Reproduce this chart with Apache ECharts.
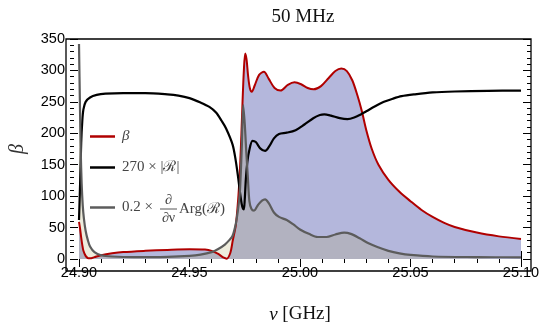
<!DOCTYPE html>
<html>
<head>
<meta charset="utf-8">
<script src="https://cdn.jsdelivr.net/npm/echarts@6/dist/echarts.min.js"></script>
<style>
  html, body { margin: 0; padding: 0; background: #fff; }
  #chart { width: 545px; height: 329px; }
</style>
</head>
<body>
<div id="chart"></div>
<script>
// beta (red, filled)
const betaNu = [24.9000, 24.9005, 24.9010, 24.9015, 24.9020, 24.9030, 24.9040, 24.9050, 24.9070, 24.9100,
  24.9150, 24.9200, 24.9300, 24.9400, 24.9500, 24.9570, 24.9600, 24.9630, 24.9655, 24.9668,
  24.9685, 24.9695, 24.9710, 24.9725, 24.9735, 24.9740, 24.9746, 24.9752, 24.9758, 24.9765,
  24.9773, 24.9782, 24.9795, 24.9815, 24.9837, 24.9858, 24.9885, 24.9912, 24.9945, 24.9975,
  25.0005, 25.0035, 25.0062, 25.0095, 25.0130, 25.0160, 25.0187, 25.0212, 25.0237, 25.0260,
  25.0280, 25.0300, 25.0325, 25.0355, 25.0400, 25.0450, 25.0500, 25.0550, 25.0600, 25.0650,
  25.0700, 25.0800, 25.0900, 25.1000];
const betaVal = [59, 48, 34, 22, 13, 5, 1.5, 1, 3, 6,
  9, 11, 13, 14.5, 15.5, 15, 13, 8, 2, 0.5,
  10, 28, 55, 120, 200, 250, 300, 327, 318, 292,
  272, 266, 276, 293, 298, 287, 272, 268, 277, 281,
  278, 272, 270, 275, 288, 299, 303, 299, 284, 260,
  235, 205, 175, 150, 126, 107, 92, 78, 67, 58,
  51, 42, 36, 32];

// 270 x |R| (black)
const magNu = [24.9000, 24.9005, 24.9010, 24.9015, 24.9020, 24.9030, 24.9050, 24.9080, 24.9120, 24.9200,
  24.9300, 24.9400, 24.9450, 24.9500, 24.9550, 24.9590, 24.9620, 24.9645, 24.9665, 24.9695,
  24.9709, 24.9720, 24.9728, 24.9736, 24.9742, 24.9746, 24.9750, 24.9755, 24.9762, 24.9770,
  24.9785, 24.9800, 24.9820, 24.9842, 24.9862, 24.9882, 24.9905, 24.9940, 24.9980, 25.0020,
  25.0060, 25.0090, 25.0110, 25.0140, 25.0180, 25.0215, 25.0245, 25.0275, 25.0300, 25.0340,
  25.0380, 25.0420, 25.0460, 25.0520, 25.0600, 25.0700, 25.0850, 25.1000];
const magVal = [62, 120, 185, 220, 238, 250, 257, 261, 263, 264,
  264, 262, 260, 256, 249, 242, 233, 220, 208, 182,
  157, 130, 107, 88, 80, 79, 95, 127, 155, 172,
  188, 186, 176, 172, 180, 192, 199, 201, 205, 214,
  224, 229, 230, 228, 224, 222.5, 225, 230, 235, 243,
  250, 255, 259, 262, 265, 266.5, 267.5, 268];

// 0.2 x d/dnu Arg(R) (grey, filled)
const argNu = [24.9000, 24.9004, 24.9008, 24.9012, 24.9017, 24.9022, 24.9030, 24.9040, 24.9050, 24.9070,
  24.9100, 24.9150, 24.9250, 24.9400, 24.9500, 24.9550, 24.9600, 24.9630, 24.9660, 24.9680,
  24.9695, 24.9710, 24.9720, 24.9728, 24.9737, 24.9743, 24.9750, 24.9757, 24.9764, 24.9771,
  24.9780, 24.9792, 24.9810, 24.9828, 24.9842, 24.9860, 24.9882, 24.9905, 24.9940, 24.9970,
  25.0000, 25.0040, 25.0080, 25.0120, 25.0160, 25.0200, 25.0230, 25.0270, 25.0310, 25.0350,
  25.0400, 25.0450, 25.0500, 25.0600, 25.0800, 25.1000];
const argVal = [342, 250, 170, 120, 85, 65, 45, 30, 20, 11,
  6, 4, 3, 3.5, 5, 7, 11, 16, 23, 30,
  37, 57, 80, 107, 182, 245, 215, 170, 130, 92,
  80, 77, 86, 93, 95, 88, 74, 67, 62, 55,
  47, 40, 35, 35, 39, 42, 40, 33, 25, 19,
  13, 9, 6.5, 4, 3, 2.5];

const xTicks = [24.90, 24.95, 25.00, 25.05, 25.10];
const yTicks = [0, 50, 100, 150, 200, 250, 300, 350];

const zip = (a, b) => a.map((x, i) => [x, b[i]]);

const serif = "'Liberation Serif', 'DejaVu Serif', serif";
const sans = "'Liberation Sans', Arial, sans-serif";

const chart = echarts.init(document.getElementById("chart"));

const xBase = {
  type: "value",
  min: xTicks[0],
  max: xTicks[xTicks.length - 1],
  interval: 0.05,
  axisLine: { show: false },
  axisTick: { show: true, inside: true, length: 8, lineStyle: { color: "#000", width: 1 } },
  minorTick: { show: true, splitNumber: 5, length: 4, lineStyle: { color: "#000", width: 1 } },
  splitLine: { show: false }
};
const yBase = {
  type: "value",
  min: yTicks[0],
  max: yTicks[yTicks.length - 1],
  interval: 50,
  axisLine: { show: false },
  axisTick: { show: true, inside: true, length: 8, lineStyle: { color: "#000", width: 1 } },
  minorTick: { show: true, splitNumber: 5, length: 4, lineStyle: { color: "#000", width: 1 } },
  splitLine: { show: false }
};

const legendBase = {
  orient: "vertical",
  padding: 0,
  icon: "rect",
  itemWidth: 25,
  itemHeight: 2.5,
  selectedMode: false,
  textStyle: { fontFamily: serif, fontSize: 15, color: "#444", padding: [0, 0, 0, 2] }
};

const argName = "0.2 × ∂/∂ν Arg(ℛ)";

chart.setOption({
  animation: false,
  title: {
    text: "50 MHz",
    left: 298,
    textAlign: "center",
    top: 3,
    textStyle: { fontFamily: serif, fontSize: 19, fontWeight: "normal", color: "#111" }
  },
  grid: { left: 75, right: 24, top: 39, bottom: 58 },
  legend: [
    Object.assign({}, legendBase, { data: ["β"], left: 90, top: 129,
      textStyle: Object.assign({}, legendBase.textStyle, { fontStyle: "italic" }) }),
    Object.assign({}, legendBase, { data: ["270 × |ℛ|"], left: 90, top: 160 }),
    Object.assign({}, legendBase, { data: [argName], left: 90, top: 200,
      formatter: () => "0.2 ×" })
  ],
  xAxis: [
    Object.assign({}, xBase, {
      position: "bottom",
      name: "{i|ν} [GHz]",
      nameLocation: "middle",
      nameGap: 46,
      nameTextStyle: { fontFamily: serif, fontSize: 19, color: "#111",
        rich: { i: { fontFamily: serif, fontSize: 19, fontStyle: "italic", color: "#111" } } },
      axisLabel: { fontFamily: sans, fontSize: 14.5, color: "#000", margin: 6,
        formatter: v => v.toFixed(2) }
    }),
    Object.assign({}, xBase, { position: "top", axisLabel: { show: false } })
  ],
  yAxis: [
    Object.assign({}, yBase, {
      position: "left",
      offset: 9,
      name: "β",
      nameLocation: "middle",
      nameGap: 42,
      nameTextStyle: { fontFamily: serif, fontSize: 20, fontStyle: "italic", color: "#333" },
      axisLabel: { fontFamily: sans, fontSize: 14.5, color: "#000", margin: 5 }
    }),
    Object.assign({}, yBase, { position: "right", offset: 10, axisLabel: { show: false } })
  ],
  series: [
    {
      name: "β",
      type: "line",
      data: zip(betaNu, betaVal),
      showSymbol: false,
      smooth: 0.3,
      color: "#b00000",
      lineStyle: { color: "#b00000", width: 2 },
      areaStyle: { color: "#b4b7dc", opacity: 1 }
    },
    {
      name: "270 × |ℛ|",
      type: "line",
      data: zip(magNu, magVal),
      showSymbol: false,
      smooth: 0.3,
      color: "#000",
      lineStyle: { color: "#000", width: 2.2 }
    },
    {
      name: argName,
      type: "line",
      data: zip(argNu, argVal),
      showSymbol: false,
      smooth: 0.3,
      color: "#5c5c5c",
      lineStyle: { color: "#5c5c5c", width: 2.2 },
      areaStyle: { color: "rgba(170,160,80,0.2)", opacity: 1 }
    }
  ],
  graphic: [
    { type: "rect", shape: { x: 66, y: 39, width: 465, height: 232 }, z: 100,
      style: { fill: "none", stroke: "#000", lineWidth: 1.3 } },
    { type: "text", x: 168.5, y: 200, z: 100,
      style: { text: "∂", font: "14px " + serif, fill: "#444", align: "center", verticalAlign: "middle" } },
    { type: "line", z: 100, shape: { x1: 160, y1: 209, x2: 177, y2: 209 },
      style: { stroke: "#444", lineWidth: 0.9 } },
    { type: "text", x: 168.5, y: 218, z: 100,
      style: { text: "∂ν", font: "14px " + serif, fill: "#444", align: "center", verticalAlign: "middle" } },
    { type: "text", x: 179, y: 209, z: 100,
      style: { text: "Arg(ℛ)", font: "15px " + serif, fill: "#444", align: "left", verticalAlign: "middle" } }
  ]
});
</script>
</body>
</html>
